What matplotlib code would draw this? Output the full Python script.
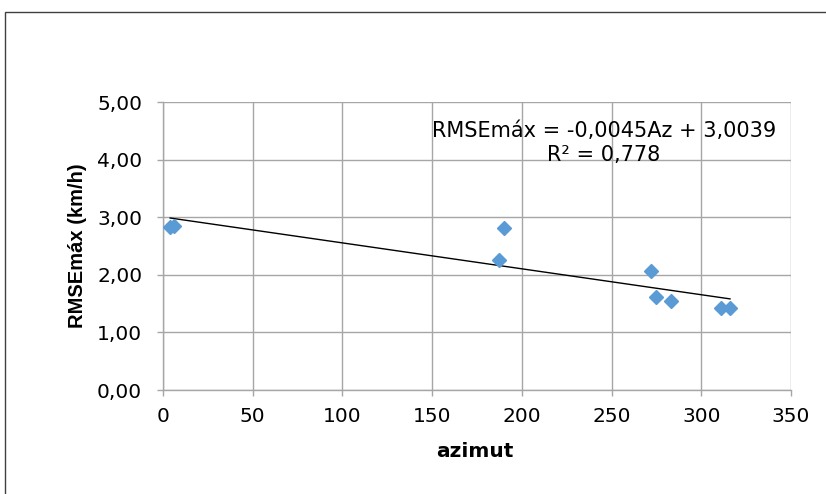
import numpy as np
import matplotlib.pyplot as plt
from matplotlib.patches import Rectangle

plt.rcParams['font.family'] = ['DejaVu Sans']

# data
azimut = [4, 6, 187, 190, 272, 275, 283, 311, 316]
rmse_max = [2.83, 2.85, 2.26, 2.81, 2.07, 1.61, 1.55, 1.42, 1.43]

slope = -0.0045
intercept = 3.0039
eq_text = "RMSEmáx = -0,0045Az + 3,0039\nR² = 0,778"

xticks = [0, 50, 100, 150, 200, 250, 300, 350]
yticks = [0, 1, 2, 3, 4, 5]

fig = plt.figure(figsize=(8.26, 4.94), dpi=100)
ax = fig.add_axes([163 / 826, 1 - 390 / 494, (791 - 163) / 826, (390 - 102) / 494])

# chart area border (cropped at right/bottom)
fig.patches.append(Rectangle((5 / 826, -0.1), 1.2, 1 - 12 / 494 + 0.1,
                             transform=fig.transFigure, fill=False,
                             edgecolor='#404040', linewidth=1.0, clip_on=False))

grid_c = '#a6a6a6'
ax.set_xlim(0, 350)
ax.set_ylim(0, 5)
ax.set_xticks(xticks)
ax.set_yticks(yticks)
ax.set_xticklabels([str(t) for t in xticks])
ax.set_yticklabels([f"{t:.2f}".replace('.', ',') for t in yticks])
ax.grid(True, color=grid_c, linewidth=1.0)
ax.set_axisbelow(True)
for s in ['top', 'right']:
    ax.spines[s].set_visible(False)
for s in ['left', 'bottom']:
    ax.spines[s].set_color(grid_c)
    ax.spines[s].set_linewidth(1.0)
ax.tick_params(axis='both', colors=grid_c, labelcolor='black', labelsize=14.5,
               length=4.5, width=1.0, direction='out')
ax.tick_params(axis='x', pad=8)
ax.tick_params(axis='y', pad=10.5)

xs = np.array([min(azimut), max(azimut)])
ax.plot(xs, slope * xs + intercept, color='black', linewidth=1.0, zorder=2)
ax.plot(azimut, rmse_max, linestyle='none', marker='D', markersize=7.5,
        color='#5b9bd5', markeredgecolor='#5b9bd5', zorder=3)

ax.text(604 / 826, 1 - 143 / 494, eq_text, transform=fig.transFigure,
        ha='center', va='center', fontsize=15, linespacing=1.2)

ax.set_xlabel('azimut', fontsize=14.5, fontweight='bold')
ax.set_ylabel('RMSEmáx (km/h)', fontsize=14.5, fontweight='bold',
              family=['Liberation Sans', 'DejaVu Sans'])
ax.xaxis.set_label_coords(0.496, -0.181)
ax.yaxis.set_label_coords(-0.121, 0.5)

fig.savefig('out.png', dpi=100)
